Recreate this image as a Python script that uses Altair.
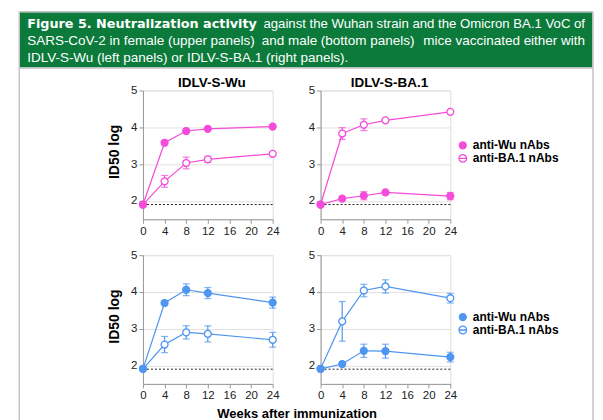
import altair as alt
import pandas as pd

# ---------------- data ----------------
weeks = [0, 4, 8, 12, 24]
series_names = ["anti-Wu nAbs", "anti-BA.1 nAbs"]
lod = 1.9

# female, IDLV-S-Wu
f_wu_antiwu = [1.90, 3.58, 3.90, 3.96, 4.02]
f_wu_antiwu_err = [0, 0, 0, 0, 0]
f_wu_antiba1 = [1.90, 2.53, 3.03, 3.13, 3.28]
f_wu_antiba1_err = [0, 0.16, 0.16, 0.08, 0.02]
# female, IDLV-S-BA.1
f_ba_antiwu = [1.90, 2.06, 2.14, 2.23, 2.13]
f_ba_antiwu_err = [0, 0.03, 0.11, 0.05, 0.10]
f_ba_antiba1 = [1.90, 3.83, 4.07, 4.19, 4.42]
f_ba_antiba1_err = [0, 0.16, 0.16, 0.03, 0.02]
# male, IDLV-S-Wu
m_wu_antiwu = [1.91, 3.70, 4.06, 3.97, 3.71]
m_wu_antiwu_err = [0, 0.03, 0.16, 0.15, 0.15]
m_wu_antiba1 = [1.91, 2.57, 2.90, 2.86, 2.70]
m_wu_antiba1_err = [0, 0.22, 0.18, 0.22, 0.20]
# male, IDLV-S-BA.1
m_ba_antiwu = [1.91, 2.04, 2.40, 2.39, 2.23]
m_ba_antiwu_err = [0, 0.02, 0.18, 0.19, 0.13]
m_ba_antiba1 = [1.91, 3.20, 4.04, 4.15, 3.83]
m_ba_antiba1_err = [0, 0.54, 0.17, 0.18, 0.13]

x_ticks = [0, 4, 8, 12, 16, 20, 24]
y_ticks = [2, 3, 4, 5]
panel_titles = ["IDLV-S-Wu", "IDLV-S-BA.1"]
y_title = "ID50 log"
x_title = "Weeks after immunization"
header_bold = "Figure 5. Neutralization activity"
header_line1_rest = "against the Wuhan strain and the Omicron BA.1 VoC of"
header_line2_parts = ["SARS-CoV-2 in female (upper panels)",
                      "and male (bottom panels)",
                      "mice vaccinated either with"]
header_line3 = "IDLV-S-Wu (left panels) or IDLV-S-BA.1 (right panels)."

PINK = "#F34CDA"
BLUE = "#4F96F0"
GREEN = "#0B7A3B"
BORDER = "#c4c4c4"
FONT = "Liberation Sans"
W, H = 130, 129
OPEN_SYMBOL = "M-1.1,0A1.1,1.1,0,1,1,1.1,0A1.1,1.1,0,1,1,-1.1,0ZM-1.1,0L1.1,0"


def make_df(wu, wu_err, ba, ba_err):
    rows = []
    for name, vals, errs in [(series_names[1], ba, ba_err), (series_names[0], wu, wu_err)]:
        for wk, v, e in zip(weeks, vals, errs):
            rows.append({"week": wk, "value": v, "lo": v - e, "hi": v + e, "err": e, "series": name})
    return pd.DataFrame(rows)


def one():
    return alt.Data(values=[{"a": 1}])


def htext(s, x, y, align="left", size=13.5, font=FONT, weight="normal"):
    return alt.Chart(one()).mark_text(align=align, baseline="alphabetic", fontSize=size,
                                      color="white", font=font, fontWeight=weight).encode(
        x=alt.value(x), y=alt.value(y), text=alt.value(s))


def header_layers():
    layers = []
    layers.append(alt.Chart(one()).mark_rect(color=GREEN).encode(
        x=alt.value(-123.5), x2=alt.value(450.5), y=alt.value(-78.5), y2=alt.value(-23)))
    for xv in (-124, 451):
        layers.append(alt.Chart(one()).mark_rule(color=BORDER, strokeWidth=1.5).encode(
            x=alt.value(xv), y=alt.value(-79), y2=alt.value(345)))
    for yv in (-79, -22.5):
        layers.append(alt.Chart(one()).mark_rule(color=BORDER, strokeWidth=1.5).encode(
            x=alt.value(-124), x2=alt.value(451), y=alt.value(yv)))
    layers.append(htext(header_bold, -116, -62.3, size=12.8, font="DejaVu Sans", weight="bold"))
    layers.append(htext(header_line1_rest, 443, -62.3, align="right", size=13.2))
    layers.append(htext(header_line2_parts[0], -116, -45.7))
    layers.append(htext(header_line2_parts[1], 119, -45.7))
    layers.append(htext(header_line2_parts[2], 443, -45.7, align="right"))
    layers.append(htext(header_line3, -116, -29))
    return layers


def panel(df, color, title=None, ytitle=False, xtitle=False, legend_y=None, header=False):
    xaxis = alt.Axis(values=x_ticks, grid=False, tickSize=4, labelFontSize=11.5,
                     labelColor="#222", labelFont=FONT, labelPadding=2,
                     domainColor="#999", tickColor="#999", labelFlush=False,
                     title=x_title if xtitle else None,
                     **({"titleX": 154, "titleY": 34, "titleAlign": "center",
                         "titleBaseline": "alphabetic", "titleFontSize": 13,
                         "titleFontWeight": "bold", "titleFont": FONT,
                         "titleColor": "black"} if xtitle else {}))
    yaxis = alt.Axis(values=y_ticks, grid=True, gridColor="#e2e2e2", tickSize=4,
                     labelFontSize=11.5, labelColor="#222", labelFont=FONT, labelPadding=2,
                     domainColor="#999", tickColor="#999",
                     title=y_title if ytitle else None,
                     **({"titleX": -25, "titleY": 61, "titleAngle": 270, "titleAlign": "center",
                         "titleBaseline": "alphabetic", "titleFontSize": 14,
                         "titleFontWeight": "bold", "titleFont": FONT,
                         "titleColor": "black"} if ytitle else {}))
    xs = alt.Scale(domain=[0, 24], nice=False, zero=False)
    ys = alt.Scale(domain=[1.5, 5], nice=False, zero=False)

    def X(f):
        return alt.X(f, scale=xs, axis=xaxis)

    def Y(f):
        return alt.Y(f, scale=ys, axis=yaxis)

    base = alt.Chart(df)
    lod_df = pd.DataFrame({"week": [weeks[0]], "week2": [weeks[-1]], "value": [lod]})
    lod_layer = alt.Chart(lod_df).mark_rule(color="#222", strokeDash=[2, 2], strokeWidth=1).encode(
        x=X("week:Q"), x2="week2:Q", y=Y("value:Q"))
    lines = base.mark_line(color=color, strokeWidth=1.2).encode(
        x=X("week:Q"), y=Y("value:Q"), detail="series:N")
    errdf = base.transform_filter("datum.err > 0.04")
    err = errdf.mark_rule(color=color, strokeWidth=1.2).encode(
        x=X("week:Q"), y=Y("lo:Q"), y2="hi:Q")
    cap_lo = errdf.mark_tick(color=color, orient="horizontal", size=7, thickness=1.2).encode(
        x=X("week:Q"), y=Y("lo:Q"))
    cap_hi = errdf.mark_tick(color=color, orient="horizontal", size=7, thickness=1.2).encode(
        x=X("week:Q"), y=Y("hi:Q"))
    fill_scale = alt.Scale(domain=series_names, range=[color, "white"])
    shape_scale = alt.Scale(domain=series_names, range=["circle", OPEN_SYMBOL])
    if legend_y is not None:
        legend = alt.Legend(
            title=None, orient="none", legendX=136.5, legendY=legend_y, padding=0,
            labelFontSize=12, labelFontWeight="bold", labelColor="black", labelFont=FONT,
            symbolSize=48, symbolStrokeWidth=1.3, symbolStrokeColor=color,
            rowPadding=-1.2, labelOffset=4)
    else:
        legend = None
    pts = base.mark_point(filled=True, size=48, stroke=color, strokeWidth=1.3, opacity=1).encode(
        x=X("week:Q"), y=Y("value:Q"),
        fill=alt.Fill("series:N", scale=fill_scale, legend=legend))
    layers = [lod_layer, lines, err, cap_lo, cap_hi, pts]
    if legend is not None:
        # legend-only layer: entries come from the scale domains, rows have no position
        leg_df = pd.DataFrame({"week": [None, None], "value": [None, None], "series": series_names})
        leg = alt.Chart(leg_df).mark_point(filled=True, size=48, stroke=color, strokeWidth=1.3,
                                           opacity=1).encode(
            x=X("week:Q"), y=Y("value:Q"),
            fill=alt.Fill("series:N", scale=fill_scale, legend=legend),
            shape=alt.Shape("series:N", scale=shape_scale, legend=legend))
        layers.append(leg)
    if title:
        layers.append(alt.Chart(one()).mark_text(
            align="center", baseline="alphabetic", fontSize=13.5, fontWeight="bold",
            font=FONT, color="black").encode(
            x=alt.value(W / 2 + 4), y=alt.value(-4), text=alt.value(title)))
    if header:
        layers = header_layers() + layers
    return alt.layer(*layers).properties(width=W, height=H)


tl = panel(make_df(f_wu_antiwu, f_wu_antiwu_err, f_wu_antiba1, f_wu_antiba1_err), PINK,
           title=panel_titles[0], ytitle=True, header=True)
tr = panel(make_df(f_ba_antiwu, f_ba_antiwu_err, f_ba_antiba1, f_ba_antiba1_err), PINK,
           title=panel_titles[1], legend_y=49)
bl = panel(make_df(m_wu_antiwu, m_wu_antiwu_err, m_wu_antiba1, m_wu_antiba1_err), BLUE,
           ytitle=True, xtitle=True)
br = panel(make_df(m_ba_antiwu, m_ba_antiwu_err, m_ba_antiba1, m_ba_antiba1_err), BLUE,
           legend_y=56)

res = dict(x="independent", y="independent", fill="independent", shape="independent")
chart = alt.concat(tl, tr, bl, br, columns=2, spacing={"row": 36, "column": 48},
                   bounds="flush").resolve_scale(**res).resolve_legend(
    fill="independent", shape="independent").properties(
    padding={"left": 9.25, "top": 1.25, "right": 0, "bottom": 0}
).configure_view(stroke=None).configure(background="white")

chart.save("out.html", embed_options={"renderer": "svg", "actions": False})
